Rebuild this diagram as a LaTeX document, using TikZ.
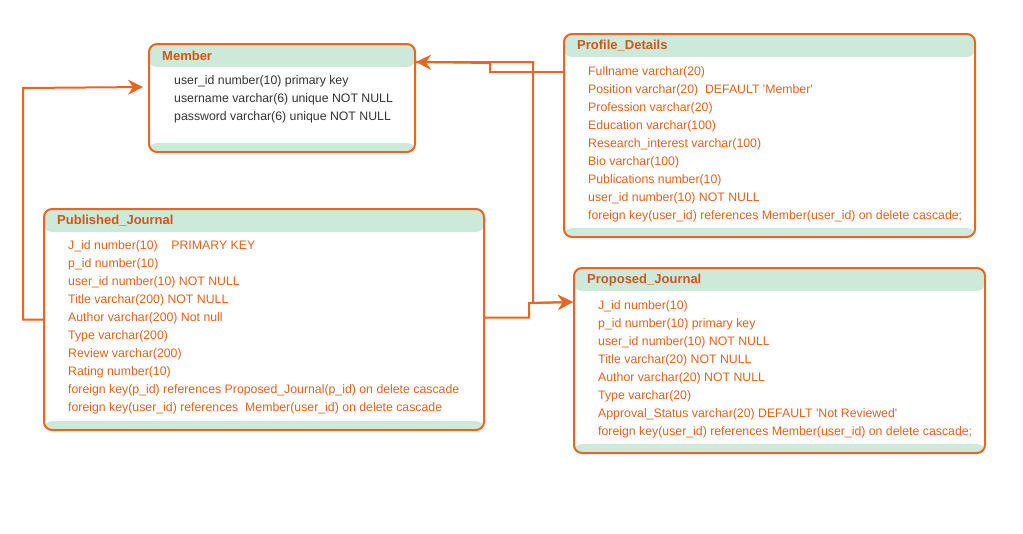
\documentclass[tikz,border=0pt]{standalone}
\usepackage{fontspec}
\setmainfont{Liberation Sans}
\usepackage{tikz}
\usetikzlibrary{positioning,arrows.meta,calc}
\definecolor{ERLine}{HTML}{E8661F}
\definecolor{ERTitle}{HTML}{D0561A}
\definecolor{ERText}{HTML}{E0621C}
\definecolor{ERGreen}{HTML}{CDE9D9}
\definecolor{ERDark}{HTML}{333333}

\begin{document}
\begin{tikzpicture}[
  x=1pt, y=-1pt,
  ertable/.style={draw=ERLine, line width=2pt, rounded corners=8pt, inner sep=0pt,
    path picture={
      \fill[ERGreen] (path picture bounding box.north west) rectangle ([yshift=-23pt]path picture bounding box.north east);
      \fill[ERGreen] (path picture bounding box.south west) rectangle ([yshift=9pt]path picture bounding box.south east);
    }},
  ertitle/.style={anchor=west, inner sep=0pt, font=\fontsize{13}{15}\selectfont\bfseries, text=ERTitle},
  erbody/.style={anchor=base west, inner sep=0pt, align=left, font=\fontsize{12.3}{18}\selectfont, text=ERText},
  erarrow/.style={-{Stealth[length=15pt,width=15pt,inset=5pt]}, line width=2pt, ERLine}
]
\useasboundingbox (0,0) rectangle (1023,533);

% tables
\node[ertable, minimum width=266pt, minimum height=108pt] (member) at (282,98) {};
\node[ertitle] (member-title) at (162,55.5) {Member};
\node[erbody, text=ERDark] (member-body) at (174,120.5) {user\_id number(10) primary key\\
username varchar(6) unique NOT NULL\\
password varchar(6) unique NOT NULL};

\node[ertable, minimum width=411pt, minimum height=203pt] (profile) at (769.5,135.5) {};
\node[ertitle] (profile-title) at (577,45.5) {Profile\_Details};
\node[erbody] (profile-body) at (588,219.5) {Fullname varchar(20)\\
Position varchar(20)\ \ DEFAULT \textquotesingle Member\textquotesingle\\
Profession varchar(20)\\
Education varchar(100)\\
Research\_interest varchar(100)\\
Bio varchar(100)\\
Publications number(10)\\
user\_id number(10) NOT NULL\\
foreign key(user\_id) references Member(user\_id) on delete cascade;};

\node[ertable, minimum width=440pt, minimum height=221pt] (published) at (264,319.5) {};
\node[ertitle] (published-title) at (57,220.5) {Published\_Journal};
\node[erbody] (published-body) at (68,411.5) {J\_id number(10)\ \ \ \ PRIMARY KEY\\
p\_id number(10)\\
user\_id number(10) NOT NULL\\
Title varchar(200) NOT NULL\\
Author varchar(200) Not null\\
Type varchar(200)\\
Review varchar(200)\\
Rating number(10)\\
foreign key(p\_id) references Proposed\_Journal(p\_id) on delete cascade\\
foreign key(user\_id) references\ \ Member(user\_id) on delete cascade};

\node[ertable, minimum width=411pt, minimum height=185pt] (proposed) at (779.5,360.5) {};
\node[ertitle] (proposed-title) at (587,280.5) {Proposed\_Journal};
\node[erbody] (proposed-body) at (598,435.5) {J\_id number(10)\\
p\_id number(10) primary key\\
user\_id number(10) NOT NULL\\
Title varchar(20) NOT NULL\\
Author varchar(20) NOT NULL\\
Type varchar(20)\\
Approval\_Status varchar(20) DEFAULT \textquotesingle Not Reviewed\textquotesingle\\
foreign key(user\_id) references Member(user\_id) on delete cascade;};

% connectors
\draw[erarrow, shorten >=5pt] (published.west) -| (23,88) -- ([yshift=-44pt]member.north west);
\draw[erarrow] ([yshift=-39pt]profile.north west) -| (490,63) -- ([yshift=-19pt]member.north east);
\draw[erarrow] ([yshift=-19pt]member.north east) -| (533,303) -- ([yshift=-35pt]proposed.north west);
\draw[erarrow] ([yshift=2pt]published.east) -| (529,303) -- ([yshift=-35pt]proposed.north west);
\end{tikzpicture}
\end{document}
